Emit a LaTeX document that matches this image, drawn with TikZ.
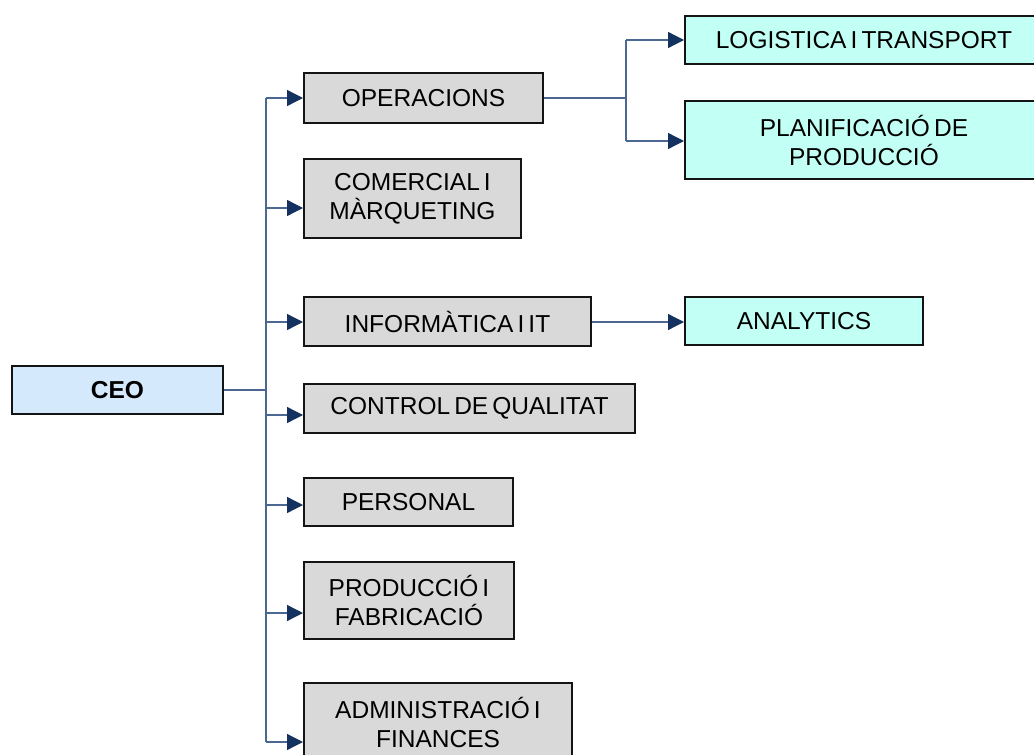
\documentclass[tikz,border=0pt]{standalone}
\usepackage{fontspec}
\setmainfont{Liberation Sans}[WordSpace=0.6]
\usetikzlibrary{arrows.meta}
\definecolor{boxgrey}{RGB}{217,217,217}
\definecolor{ceoblue}{RGB}{213,233,252}
\definecolor{subcyan}{RGB}{194,255,244}
\definecolor{linkline}{RGB}{74,104,146}
\definecolor{tipnavy}{RGB}{20,50,95}
\tikzset{
  unit/.style={draw=black!92, line width=2pt, inner sep=0pt, anchor=north west,
    align=center, font=\fontsize{24.5}{29}\selectfont},
  dept/.style={unit, fill=boxgrey},
  sub/.style={unit, fill=subcyan},
  head/.style={unit, fill=ceoblue, font=\fontsize{24.5}{29}\selectfont\bfseries},
  link/.style={draw=linkline, line width=1.3pt},
  arrowlink/.style={link, -{Triangle[length=16pt,width=16pt,color=tipnavy]}}
}
\begin{document}
\begin{tikzpicture}[x=1pt,y=-1pt]
\useasboundingbox (0,0) rectangle (1034,755);

% organisation units
\node[head, minimum width=211pt, minimum height=48pt] (ceo) at (11,365) {CEO};
\node[dept, minimum width=239pt, minimum height=50pt] (ops) at (303,72) {OPERACIONS};
\node[dept, minimum width=217pt, minimum height=79pt] (com) at (303,158) {COMERCIAL I\\MÀRQUETING};
\node[dept, minimum width=287pt, minimum height=49pt] (inf) at (303,296) {INFORMÀTICA I IT};
\node[dept, minimum width=331pt, minimum height=49pt] (ctl) at (303,383) {CONTROL DE QUALITAT};
\node[dept, minimum width=209pt, minimum height=48pt] (per) at (303,477) {PERSONAL};
\node[dept, minimum width=210pt, minimum height=77pt] (pro) at (303,561) {PRODUCCIÓ I\\FABRICACIÓ};
\node[dept, minimum width=268pt, minimum height=78pt] (adm) at (303,682) {ADMINISTRACIÓ I\\FINANCES};
\node[sub, minimum width=358pt, minimum height=48pt] (log) at (684,15) {LOGISTICA I TRANSPORT};
\node[sub, minimum width=358pt, minimum height=78pt] (pla) at (684,100) {PLANIFICACIÓ DE\\PRODUCCIÓ};
\node[sub, minimum width=238pt, minimum height=48pt] (ana) at (684,296) {ANALYTICS};

% trunk from the CEO
\coordinate (t1) at (266,98);
\coordinate (t2) at (266,208);
\coordinate (t3) at (266,322);
\coordinate (t4) at (266,415);
\coordinate (t5) at (266,505);
\coordinate (t6) at (266,613);
\coordinate (t7) at (266,742);
\draw[link] (ceo.east) -- (ceo.east -| t1);
\draw[link] (t1) -- (t7);
\draw[arrowlink] (t1) -- (t1 -| ops.west);
\draw[arrowlink] (t2) -- (t2 -| com.west);
\draw[arrowlink] (t3) -- (t3 -| inf.west);
\draw[arrowlink] (t4) -- (t4 -| ctl.west);
\draw[arrowlink] (t5) -- (t5 -| per.west);
\draw[arrowlink] (t6) -- (t6 -| pro.west);
\draw[arrowlink] (t7) -- (t7 -| adm.west);

% operations branch
\coordinate (ol) at (626,40);
\coordinate (op) at (626,141);
\draw[link] (ops.east) -- (ops.east -| ol);
\draw[link] (ol) -- (op);
\draw[arrowlink] (ol) -- (ol -| log.west);
\draw[arrowlink] (op) -- (op -| pla.west);

% IT branch
\draw[arrowlink] (inf.east |- t3) -- (t3 -| ana.west);
\end{tikzpicture}
\end{document}
